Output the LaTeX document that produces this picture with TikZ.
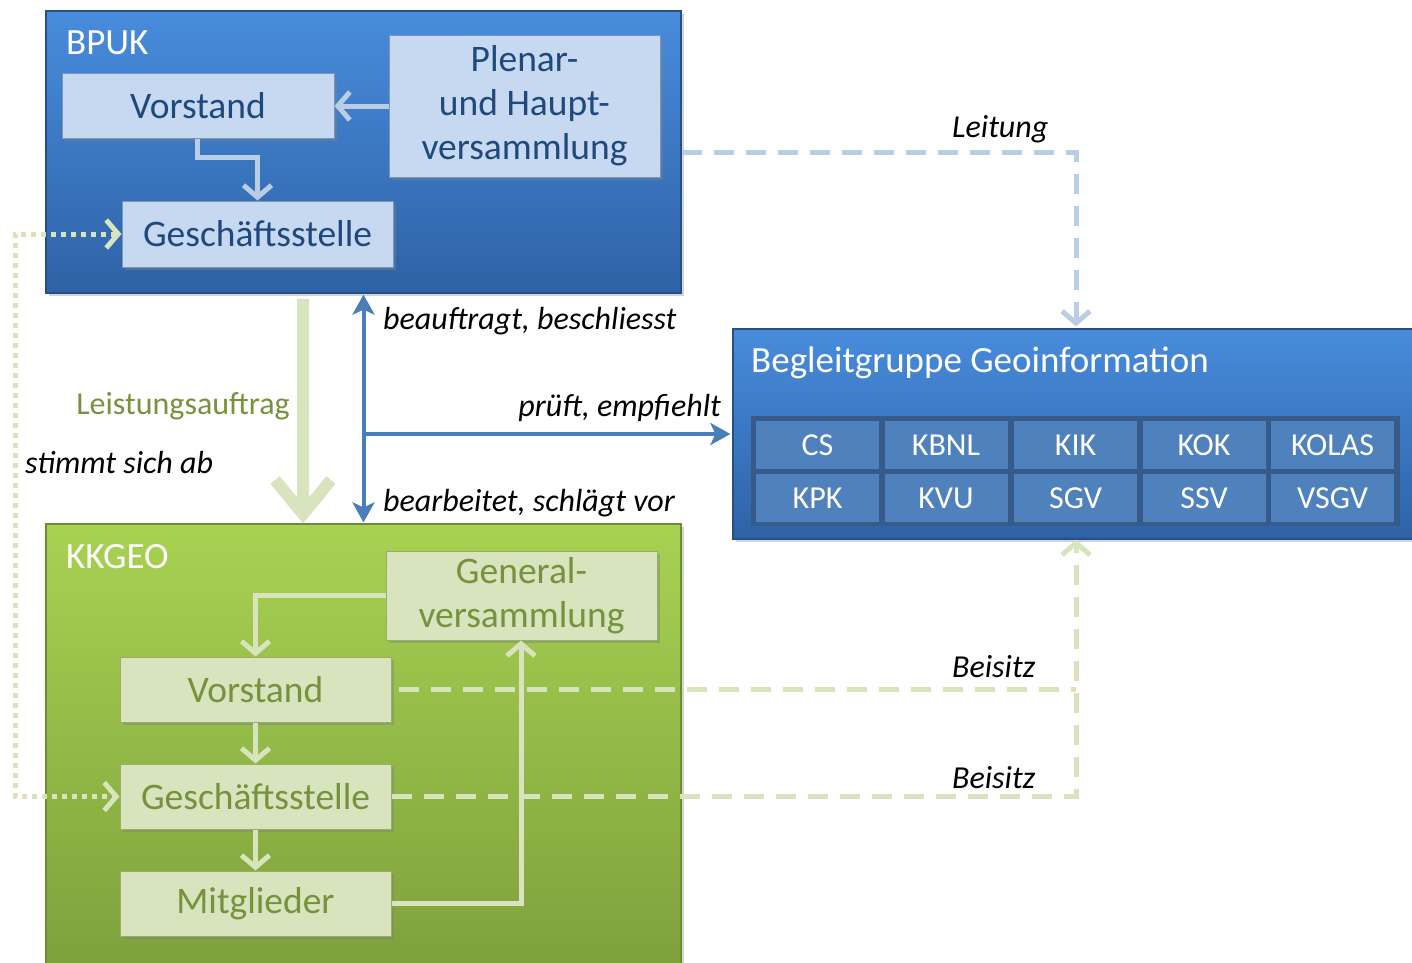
\documentclass[tikz,border=0pt]{standalone}
\usepackage{fontspec}
\setmainfont{Carlito}
\usetikzlibrary{arrows.meta,shadows,calc}
\definecolor{btop}{RGB}{72,140,220}
\definecolor{bbot}{RGB}{46,98,166}
\definecolor{bdraw}{RGB}{38,78,135}
\definecolor{gtop}{RGB}{168,210,82}
\definecolor{gbot}{RGB}{126,160,60}
\definecolor{gdraw}{RGB}{110,140,50}
\definecolor{lbfill}{RGB}{198,217,241}
\definecolor{lbdraw}{RGB}{120,150,190}
\definecolor{lbtext}{RGB}{31,73,125}
\definecolor{lbline}{RGB}{185,205,229}
\definecolor{lgfill}{RGB}{215,228,189}
\definecolor{lgdraw}{RGB}{150,175,100}
\definecolor{lgtext}{RGB}{118,146,60}
\definecolor{lgline}{RGB}{215,228,189}
\definecolor{blueln}{RGB}{74,126,187}
\definecolor{cellfill}{RGB}{79,129,189}
\definecolor{panelfill}{RGB}{54,90,138}
\begin{document}
\begin{tikzpicture}[x=1pt,y=1pt,
  bigblue/.style={draw=bdraw, line width=1.2pt, top color=btop, bottom color=bbot, inner sep=0pt,
    drop shadow={shadow xshift=3pt,shadow yshift=-3pt,opacity=0.35}},
  biggreen/.style={draw=gdraw, line width=1.2pt, top color=gtop, bottom color=gbot, inner sep=0pt,
    drop shadow={shadow xshift=3pt,shadow yshift=-3pt,opacity=0.35}},
  lbbox/.style={draw=lbdraw, line width=1pt, fill=lbfill, text=lbtext, inner sep=0pt, align=center,
    font=\fontsize{37.5}{44}\selectfont,
    drop shadow={shadow xshift=2.5pt,shadow yshift=-2.5pt,opacity=0.45}},
  lgbox/.style={draw=lgdraw, line width=1pt, fill=lgfill, text=lgtext, inner sep=0pt, align=center,
    font=\fontsize{37.5}{44}\selectfont,
    drop shadow={shadow xshift=2.5pt,shadow yshift=-2.5pt,opacity=0.45}},
  cellbox/.style={fill=cellfill, text=white, inner sep=0pt, minimum width=123pt, minimum height=48pt,
    font=\fontsize{32}{36}\selectfont},
  titletext/.style={text=white, inner sep=0pt, anchor=base west, font=\fontsize{37}{42}\selectfont},
  lbl/.style={inner sep=0pt, font=\fontsize{32}{36}\selectfont\itshape},
  lbarrow/.style={draw=lbline, line width=5pt, -{Straight Barb[length=12pt,width=28pt]}},
  lgarrow/.style={draw=lgline, line width=5pt, -{Straight Barb[length=12pt,width=28pt]}},
  bluearrow/.style={draw=blueln, line width=4pt},
  dashpat/.style={line width=5pt, dash pattern=on 20pt off 12pt}
]
\useasboundingbox (0,0) rectangle (1412,-962);
\clip (0,0) rectangle (1412,-962);

% BPUK
\node[bigblue, minimum width=635pt, minimum height=282pt] (bpuk) at (363.5,-152) {};
\node[titletext] (tbpuk) at (66,-54) {BPUK};
\node[lbbox, minimum width=272pt, minimum height=65pt] (bV) at (198,-105.5) {Vorstand};
\node[lbbox, minimum width=271pt, minimum height=142pt] (bP) at (524.5,-106) {Plenar-\\und Haupt-\\versammlung};
\node[lbbox, minimum width=271pt, minimum height=66pt] (bG) at (257.5,-234) {Geschäftsstelle};

% Begleitgruppe
\node[bigblue, minimum width=700pt, minimum height=210pt] (beg) at (1083,-434) {};
\node[titletext] (tbeg) at (751,-372) {Begleitgruppe Geoinformation};
\node[draw=panelfill, line width=1pt, fill=panelfill, inner sep=0pt, minimum width=648pt, minimum height=109pt] (panel) at (1075,-470.5) {};
\node[cellbox] (c1) at (817.5,-445) {CS};
\node[cellbox] (c2) at (946,-445) {KBNL};
\node[cellbox] (c3) at (1075.5,-445) {KIK};
\node[cellbox] (c4) at (1204,-445) {KOK};
\node[cellbox] (c5) at (1332.5,-445) {KOLAS};
\node[cellbox] (c6) at (817.5,-498) {KPK};
\node[cellbox] (c7) at (946,-498) {KVU};
\node[cellbox] (c8) at (1075.5,-498) {SGV};
\node[cellbox] (c9) at (1204,-498) {SSV};
\node[cellbox] (c10) at (1332.5,-498) {VSGV};

% KKGEO
\node[biggreen, minimum width=635pt, minimum height=446pt] (kk) at (363.5,-747) {};
\node[titletext] (tkk) at (66,-568) {KKGEO};
\node[lgbox, minimum width=271pt, minimum height=89pt] (kGV) at (521.5,-595.5) {General-\\versammlung};
\node[lgbox, minimum width=271pt, minimum height=65pt] (kV) at (255.5,-689.5) {Vorstand};
\node[lgbox, minimum width=271pt, minimum height=65pt] (kG) at (255.5,-796.5) {Geschäftsstelle};
\node[lgbox, minimum width=271pt, minimum height=65pt] (kM) at (255.5,-903.5) {Mitglieder};

\coordinate (lx) at (1076,0);
\coordinate (dl) at (15,0);

% BPUK internal connectors
\draw[lbarrow] (bP.west) -- (bP.west -| bV.east);
\draw[lbarrow] ([xshift=-1pt]bV.south) -- ++(0,-19) -| (bG.north);

% Leitung
\draw[draw=lbline, dashpat, -{Straight Barb[length=12pt,width=28pt]}] (bpuk.east) -- (bpuk.east -| lx) -- ([yshift=2pt]beg.north -| lx);
\node[lbl, anchor=base west] (lLeit) at (952,-137) {Leitung};

% KKGEO internal connectors
\draw[lgarrow] (kGV.west) -| (kV.north);
\draw[lgarrow] (kV.south) -- (kG.north);
\draw[lgarrow] (kG.south) -- (kM.north);
\draw[lgarrow] (kM.east) -| ([xshift=-0.5pt]kGV.south);

% Beisitz
\draw[draw=lgline, dashpat, shorten <=7pt] (kV.east) -- (kV.east -| lx);
\draw[draw=lgline, dashpat, -{Straight Barb[length=12pt,width=28pt]}] (kG.east) -| (beg.south -| lx);
\node[lbl, anchor=base west] (lB1) at (952,-677) {Beisitz};
\node[lbl, anchor=base west] (lB2) at (952,-788) {Beisitz};

% Leistungsauftrag
\draw[draw=lgline, line width=12pt, -{Straight Barb[length=34pt,width=56pt]}] ([shift={(-60.5,-5)}]bpuk.south) -- ([xshift=-60.5pt]kk.north);
\node[lbl, anchor=base east, text=lgtext, font=\fontsize{32}{36}\selectfont] (lLA) at (290,-414) {Leistungsauftrag};

% blue arrows
\draw[bluearrow, {Stealth[length=20pt,width=22pt,inset=5pt]}-{Stealth[length=20pt,width=22pt,inset=5pt]}] ([yshift=-1pt]bpuk.south) -- ([yshift=1pt]kk.north);
\draw[bluearrow, -{Stealth[length=20pt,width=22pt,inset=5pt]}] (bpuk.south |- beg.west) -- ([xshift=-2pt]beg.west);
\node[lbl, anchor=base west] (lbe) at (383,-329) {beauftragt, beschliesst};
\node[lbl, anchor=base east] (lpr) at (721,-416) {prüft, empfiehlt};
\node[lbl, anchor=base west] (lba) at (383,-511) {bearbeitet, schlägt vor};

% stimmt sich ab
\draw[draw=lgline, line width=5pt, dash pattern=on 5pt off 5pt,
  {Straight Barb[length=12pt,width=28pt]}-{Straight Barb[length=12pt,width=28pt]}]
  (bG.west) -- (bG.west -| dl) |- (kG.west);
\node[lbl, anchor=base west] (lst) at (25,-473) {stimmt sich ab};
\end{tikzpicture}
\end{document}
